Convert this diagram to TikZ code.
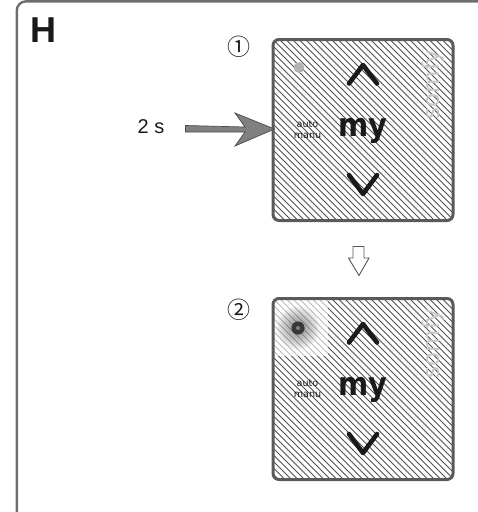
\documentclass[tikz,border=0pt]{standalone}
\usepackage{graphicx}
\usepackage{fontspec}
\setmainfont{Liberation Sans}
\newfontfamily\symfont{Noto Sans CJK JP}
\newfontfamily\padfont{DejaVu Sans}
\definecolor{frameg}{HTML}{6E6E6E}
\definecolor{cardg}{HTML}{5A5A5A}
\definecolor{hatchg}{HTML}{505050}
\definecolor{arrowg}{HTML}{808080}
\definecolor{inkg}{HTML}{1A1A1A}
\tikzset{
  panelline/.style={draw=frameg,line width=2.4pt,rounded corners=9pt},
  cardedge/.style={draw=cardg,line width=3pt,rounded corners=6pt},
  chevron/.style={draw=inkg,line width=4.6pt,line cap=round,line join=round},
  labeltext/.style={inner sep=0pt,text=inkg},
  autotext/.style={inner sep=0pt,align=center,text=inkg,font=\padfont\fontsize{9.6}{11}\selectfont},
  mytext/.style={inner sep=0pt,text=inkg,font=\padfont\fontsize{29}{29}\selectfont\bfseries},
  brandtext/.style={inner sep=0pt,text=black!22,rotate=90,font=\padfont\fontsize{23}{23}\selectfont},
  hatchline/.style={draw=hatchg,line width=1pt},
  pushbody/.style={draw=black!70,fill=arrowg,line width=0.7pt,line join=miter},
  hollow/.style={draw=black!65,fill=white,line width=0.9pt}
}
\newcommand{\keypad}[3]{% #1 = top y, #2 = name, #3 = lit flag
  \begin{scope}
    \clip[rounded corners=6pt] (273,#1) rectangle (453,#1+181);
    \foreach \k in {-201.5,-195,...,201.5} {
      \draw[hatchline] (273+\k,#1) -- (273+\k+181,#1+181);
    }
    \node[brandtext] (#2brand) at (433,#1+45) {somfy};
    \ifnum#3=1
      \fill[white,opacity=.62] (273,#1) rectangle (328,#1+57);
      \foreach \r in {22,21,...,8} { \fill[black,opacity=.022] (298,#1+29.5) circle (\r); }
      \fill[black!78] (298,#1+29.5) circle (6.6);
      \fill[black!50] (298,#1+29.5) circle (2);
    \else
      \fill[black!30] (299,#1+28) circle (5.4);
    \fi
  \end{scope}
  \draw[cardedge] (273,#1) rectangle (453,#1+181);
  \coordinate (#2up1) at (349,#1+44);
  \coordinate (#2up2) at (363,#1+25.5);
  \coordinate (#2up3) at (377,#1+44);
  \coordinate (#2dn1) at (349,#1+135.5);
  \coordinate (#2dn2) at (363,#1+154.5);
  \coordinate (#2dn3) at (377,#1+135.5);
  \draw[chevron] (#2up1) -- (#2up2) -- (#2up3);
  \draw[chevron] (#2dn1) -- (#2dn2) -- (#2dn3);
  \node[autotext] (#2auto) at (307.5,#1+90) {auto\\manu};
  \node[mytext] (#2my) at (363,#1+91.5) {\scalebox{1}[1.12]{my}};
}
\begin{document}
\begin{tikzpicture}[x=1pt,y=-1pt]
\useasboundingbox (0,0) rectangle (478,512);
\draw[panelline] (16.8,513) -- (16.8,1.4) -- (479,1.4);
\node[labeltext,font=\fontsize{36}{36}\selectfont\bfseries] (title) at (43.5,30) {H};
\node[labeltext,font=\symfont\fontsize{23}{23}\selectfont] (one) at (239,47) {①};
\node[labeltext,font=\symfont\fontsize{23}{23}\selectfont] (two) at (239,310) {②};
\node[labeltext,font=\fontsize{20}{20}\selectfont] (time) at (151,127) {2 s};
\keypad{39.5}{a}{0}
\keypad{298.5}{b}{1}
\path[pushbody] (185.5,125.5) -- (245,127) -- (235,113) -- (274.5,129) -- (235,146) -- (245,132) -- (185.5,132) -- cycle;
\path[hollow] (353,246.5) -- (364,246.5) -- (364,258) -- (369,258) -- (359,275.5) -- (348.5,258) -- (353,258) -- cycle;
\end{tikzpicture}
\end{document}
